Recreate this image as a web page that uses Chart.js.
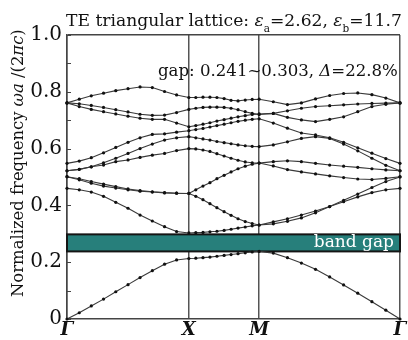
<!DOCTYPE html>
<html>
<head>
<meta charset="utf-8">
<script src="https://cdn.jsdelivr.net/npm/chart.js@4.4.0/dist/chart.umd.min.js"></script>
<style>
  html, body { margin: 0; padding: 0; background: #fff; }
</style>
</head>
<body>
<canvas id="bands" width="408" height="340"></canvas>
<script>
// k path positions (Γ-X-M-Γ, 10 steps per segment)
var kPos = [0, 0.058, 0.115, 0.173, 0.231, 0.289, 0.346, 0.404, 0.462, 0.519, 0.577,
  0.610, 0.644, 0.677, 0.710, 0.744, 0.777, 0.810, 0.844, 0.877, 0.910,
  0.977, 1.044, 1.110, 1.177, 1.244, 1.310, 1.377, 1.444, 1.510, 1.577];
var kTicks = [0, 0.577, 0.910, 1.577];
var kLabels = ["Γ", "X", "M", "Γ"];

// normalized frequency of each band along the path
var band1 = [0, 0.022, 0.046, 0.070, 0.096, 0.121, 0.146, 0.170, 0.193, 0.208, 0.213,
  0.214, 0.216, 0.218, 0.221, 0.224, 0.227, 0.230, 0.233, 0.236, 0.238,
  0.232, 0.216, 0.197, 0.175, 0.148, 0.120, 0.091, 0.061, 0.031, 0];
var band2 = [0.460, 0.455, 0.447, 0.432, 0.411, 0.390, 0.366, 0.345, 0.325, 0.308, 0.303,
  0.304, 0.305, 0.307, 0.309, 0.312, 0.316, 0.320, 0.324, 0.328, 0.331,
  0.342, 0.353, 0.366, 0.380, 0.396, 0.413, 0.430, 0.445, 0.455, 0.460];
var band3 = [0.501, 0.494, 0.484, 0.475, 0.466, 0.458, 0.452, 0.448, 0.445, 0.443, 0.442,
  0.432, 0.420, 0.406, 0.392, 0.378, 0.365, 0.353, 0.343, 0.336, 0.331,
  0.335, 0.344, 0.356, 0.374, 0.396, 0.418, 0.440, 0.463, 0.484, 0.500];
var band4 = [0.501, 0.490, 0.478, 0.468, 0.461, 0.455, 0.450, 0.447, 0.444, 0.443, 0.442,
  0.455, 0.468, 0.480, 0.494, 0.506, 0.518, 0.529, 0.538, 0.545, 0.549,
  0.539, 0.526, 0.518, 0.511, 0.504, 0.498, 0.493, 0.491, 0.495, 0.501];
var band5 = [0.522, 0.527, 0.536, 0.542, 0.554, 0.560, 0.569, 0.577, 0.583, 0.593, 0.600,
  0.599, 0.595, 0.590, 0.582, 0.574, 0.566, 0.559, 0.553, 0.550, 0.549,
  0.554, 0.557, 0.554, 0.548, 0.542, 0.538, 0.534, 0.529, 0.525, 0.522];
var band6 = [0.522, 0.527, 0.536, 0.550, 0.566, 0.583, 0.600, 0.616, 0.630, 0.638, 0.642,
  0.638, 0.634, 0.630, 0.625, 0.621, 0.617, 0.613, 0.610, 0.608, 0.607,
  0.613, 0.624, 0.636, 0.642, 0.636, 0.616, 0.592, 0.566, 0.541, 0.522];
var band7 = [0.548, 0.556, 0.568, 0.585, 0.604, 0.622, 0.638, 0.650, 0.652, 0.658, 0.663,
  0.667, 0.671, 0.676, 0.681, 0.686, 0.691, 0.696, 0.700, 0.703, 0.705,
  0.690, 0.672, 0.655, 0.648, 0.638, 0.622, 0.603, 0.584, 0.565, 0.548];
var band8 = [0.761, 0.748, 0.738, 0.730, 0.722, 0.714, 0.707, 0.703, 0.703, 0.690, 0.677,
  0.681, 0.686, 0.691, 0.697, 0.702, 0.707, 0.712, 0.716, 0.720, 0.722,
  0.724, 0.710, 0.701, 0.695, 0.703, 0.712, 0.730, 0.748, 0.756, 0.761];
var band9 = [0.761, 0.758, 0.752, 0.745, 0.737, 0.729, 0.721, 0.717, 0.718, 0.727, 0.738,
  0.742, 0.745, 0.746, 0.746, 0.745, 0.742, 0.737, 0.730, 0.724, 0.720,
  0.724, 0.733, 0.742, 0.748, 0.751, 0.754, 0.757, 0.759, 0.760, 0.761];
var band10 = [0.761, 0.774, 0.786, 0.795, 0.804, 0.811, 0.817, 0.815, 0.801, 0.789, 0.780,
  0.780, 0.781, 0.781, 0.780, 0.776, 0.770, 0.768, 0.771, 0.773, 0.774,
  0.765, 0.755, 0.761, 0.775, 0.787, 0.794, 0.796, 0.790, 0.778, 0.761];

// band gap drawn as a box (plot values)
var gapLow = 0.238;
var gapHigh = 0.298;

var serif = "'DejaVu Serif', 'Liberation Serif', serif";

// text made of pieces with mixed styles; size is scaled so the run fills "width"
function fitRuns(c, runs, width) {
  var w = 0;
  runs.forEach(function (r) { c.font = r.style + " " + r.size + "px " + serif; w += c.measureText(r.text).width; });
  return width / w;
}
function drawRuns(c, runs, x, y, k) {
  runs.forEach(function (r) {
    c.font = r.style + " " + (r.size * k).toFixed(2) + "px " + serif;
    c.fillText(r.text, x, y + (r.dy || 0));
    x += c.measureText(r.text).width;
  });
}

var decor = {
  id: "decor",
  beforeDatasetsDraw: function (chart) {
    var c = chart.ctx, a = chart.chartArea, y = chart.scales.y;
    c.save();
    // minor ticks pointing inward
    c.strokeStyle = "#444";
    c.lineWidth = 1;
    y.ticks.forEach(function (t) {
      var py = Math.round(y.getPixelForValue(t.value)) + 0.5;
      c.beginPath();
      c.moveTo(a.left, py);
      c.lineTo(a.left + 4, py);
      c.stroke();
    });
    // band gap box
    var top = y.getPixelForValue(gapHigh), bot = y.getPixelForValue(gapLow);
    c.fillStyle = "#277f7b";
    c.fillRect(a.left, top, a.right - a.left, bot - top);
    c.lineWidth = 2;
    c.strokeStyle = "#151515";
    c.strokeRect(a.left, top, a.right - a.left, bot - top);
    c.fillStyle = "#fff";
    c.font = "17px " + serif;
    c.textAlign = "right";
    c.textBaseline = "middle";
    c.fillText("band gap", a.right - 6, (top + bot) / 2);
    c.restore();
  },
  afterDraw: function (chart) {
    var c = chart.ctx, a = chart.chartArea, k;
    c.save();
    c.fillStyle = "#111";
    c.textBaseline = "alphabetic";
    c.textAlign = "left";
    // title
    var title = [
      { text: "TE triangular lattice: ", style: "normal", size: 18 },
      { text: "ε", style: "italic", size: 18 },
      { text: "a", style: "normal", size: 11, dy: 6 },
      { text: "=2.62, ", style: "normal", size: 18 },
      { text: "ε", style: "italic", size: 18 },
      { text: "b", style: "normal", size: 11, dy: 6 },
      { text: "=11.7", style: "normal", size: 18 }
    ];
    k = fitRuns(c, title, 336);
    drawRuns(c, title, 66, 26, k);
    // gap note
    var note = [
      { text: "gap: 0.241~0.303, ", style: "normal", size: 16 },
      { text: "Δ", style: "italic", size: 16 },
      { text: "=22.8%", style: "normal", size: 16 }
    ];
    k = fitRuns(c, note, 240);
    drawRuns(c, note, a.right - 2 - 240, 76, k);
    // y axis title
    var yt = [
      { text: "Normalized frequency ", style: "normal", size: 18 },
      { text: "ωa", style: "italic", size: 18 },
      { text: " /(2", style: "normal", size: 18 },
      { text: "πc", style: "italic", size: 18 },
      { text: ")", style: "normal", size: 18 }
    ];
    k = fitRuns(c, yt, 268);
    c.translate(23, 297);
    c.rotate(-Math.PI / 2);
    drawRuns(c, yt, 0, 0, k);
    c.restore();
  }
};

var bands = [band1, band2, band3, band4, band5, band6, band7, band8, band9, band10];

var ctx = document.getElementById("bands");
var chart = new Chart(ctx, {
  type: "scatter",
  data: {
    datasets: bands.map(function (b) {
      return {
        data: b.map(function (v, i) { return { x: kPos[i], y: v }; }),
        showLine: true,
        borderColor: "#3a3a3a",
        borderWidth: 1.1,
        pointRadius: 1.6,
        pointBackgroundColor: "#111",
        pointBorderWidth: 0,
        tension: 0,
        clip: 3
      };
    })
  },
  options: {
    responsive: false,
    animation: false,
    layout: { padding: { top: 35, right: 8, left: 0, bottom: 0 } },
    plugins: { legend: { display: false }, tooltip: { enabled: false }, title: { display: false } },
    scales: {
      x: {
        type: "linear",
        min: 0,
        max: 1.577,
        afterBuildTicks: function (s) { s.ticks = kTicks.map(function (v) { return { value: v }; }); },
        afterFit: function (s) { s.height = 21; },
        ticks: {
          autoSkip: false,
          maxRotation: 0,
          padding: 1,
          color: "#111",
          font: { family: serif, size: 18, style: "italic", weight: "bold" },
          callback: function (v, i) { return kLabels[i]; }
        },
        grid: { color: "#555", lineWidth: 1.5, drawTicks: false },
        border: { display: true, color: "#444", width: 1.5 }
      },
      y: {
        min: 0,
        max: 1,
        afterFit: function (s) { s.width = 67; },
        ticks: {
          stepSize: 0.1,
          padding: 5,
          color: "#111",
          font: { family: serif, size: 20 },
          callback: function (v) {
            var t = Math.round(v * 10);
            if (t % 2) return "";
            return t === 0 ? "0" : (t / 10).toFixed(1);
          }
        },
        grid: {
          drawTicks: false,
          lineWidth: 1.5,
          color: function (c) { return c.tick && c.tick.value === 1 ? "#444" : "rgba(0,0,0,0)"; }
        },
        border: { display: true, color: "#444", width: 1.5 }
      }
    }
  },
  plugins: [decor]
});
</script>
</body>
</html>
